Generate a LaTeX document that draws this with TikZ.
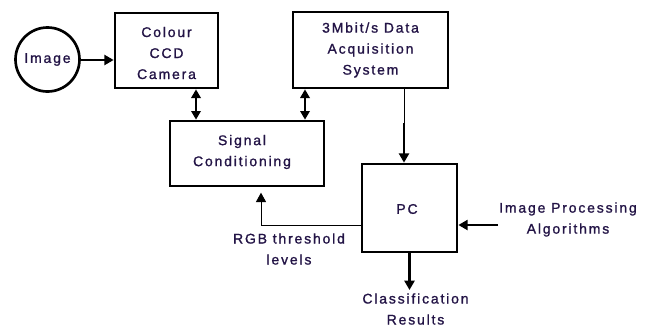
\documentclass[tikz,border=0pt]{standalone}
\usepackage{fontspec}
\setmainfont{Liberation Sans}[LetterSpace=13,FakeBold=1.2]
\usetikzlibrary{arrows.meta}
\definecolor{txtcol}{RGB}{35,20,70}
\begin{document}
\begin{tikzpicture}[x=0.75pt,y=-0.75pt,
  txt/.style={text=txtcol,align=center,inner sep=0pt,font=\fontsize{10.5}{15.75}\selectfont},
  blk/.style={draw,line width=2pt,inner sep=0pt},
  arr/.style={line width=2pt,-{Triangle[length=7pt,width=7.5pt]}},
  darr/.style={line width=2pt,{Triangle[length=6.5pt,width=7pt]}-{Triangle[length=6.5pt,width=7pt]}},
  thinarr/.style={line width=0.75pt,-{Triangle[length=7pt,width=7.5pt]}}]
\useasboundingbox (0,0) rectangle (655,326);
% nodes
\node[blk,circle,minimum size=64*0.75pt] (img) at (47.5,59.5) {};
\node[txt] (imgt) at (img.center) {Image};
\node[blk,minimum width=103*0.75pt,minimum height=75*0.75pt] (cam) at (166.5,50.5) {};
\node[txt] (camt) at (166.5,53) {Colour\\CCD\\Camera};
\node[blk,minimum width=155*0.75pt,minimum height=76*0.75pt] (daq) at (370.5,50) {};
\node[txt] (daqt) at (370.5,50) {3Mbit/s Data\\Acquisition\\System};
\node[blk,minimum width=154*0.75pt,minimum height=65*0.75pt] (sig) at (247,153.5) {};
\node[txt] (sigt) at (242,152) {Signal\\Conditioning};
\node[blk,minimum width=95*0.75pt,minimum height=88*0.75pt] (pc) at (409.5,208) {};
\node[txt] (pct) at (407,209) {PC};
\node[txt] (ipa) at (568,219.5) {Image Processing\\Algorithms};
\node[txt] (rgb) at (289,249) {RGB threshold\\levels};
\node[txt] (cls) at (415.5,309) {Classification\\Results};
% coordinates
\coordinate (d1) at (196,100);
\coordinate (d2) at (305,100);
\coordinate (j) at (404,123);
\coordinate (ipaend) at (498,225);
\coordinate (rgbc) at (261,225);
\coordinate (clsend) at (409.5,290);
% connectors
\draw[arr] (img.east |- 0,60) -- (cam.west |- 0,60);
\draw[darr] (d1 |- cam.south) -- (d1 |- sig.north);
\draw[darr] (d2 |- daq.south) -- (d2 |- sig.north);
\draw[line width=0.75pt] (j |- daq.south) -- (j);
\draw[arr] (j) -- (j |- pc.north);
\draw[arr] (ipaend) -- (ipaend -| pc.east);
\draw[thinarr,shorten >=4pt] (rgbc -| pc.west) -- (rgbc) -- (rgbc |- sig.south);
\draw[arr] (pc.south -| clsend) -- (clsend);
\end{tikzpicture}
\end{document}
